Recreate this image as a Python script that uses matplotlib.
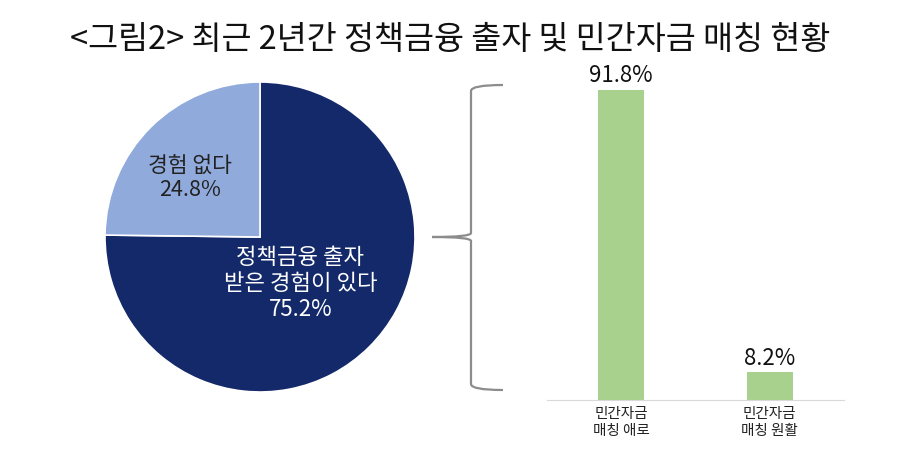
import matplotlib
matplotlib.use("Agg")
import matplotlib.pyplot as plt
from matplotlib.path import Path
from matplotlib.patches import PathPatch

plt.rcParams['font.family'] = ['Noto Sans CJK KR', 'DejaVu Sans']

# data
pie_labels = ['정책금융 출자\n받은 경험이 있다', '경험 없다']
pie_values = [75.2, 24.8]
pie_colors = ['#132969', '#8faadb']

bar_categories = ['민간자금\n매칭 애로', '민간자금\n매칭 원활']
bar_values = [91.8, 8.2]

title = '<그림2> 최근 2년간 정책금융 출자 및 민간자금 매칭 현황'

W, H = 900, 454
fig = plt.figure(figsize=(W / 100, H / 100), dpi=100)

fig.text(0.5, 1 - 40 / H, title, ha='center', va='center',
         fontsize=23.5, color='#111111')

# pie
ax_pie = fig.add_axes([105 / W, 1 - 392 / H, 310 / W, 310 / H])
wedges, _ = ax_pie.pie(pie_values, colors=pie_colors, startangle=90,
                       counterclock=False,
                       wedgeprops=dict(edgecolor='white', linewidth=1.2))
ax_pie.set_xlim(-1, 1)
ax_pie.set_ylim(-1, 1)
ax_pie.set_aspect('equal')
ax_pie.text(0.26, -0.30, f'{pie_labels[0]}\n{pie_values[0]}%', ha='center', va='center',
            fontsize=16, color='white', linespacing=1.15)
ax_pie.text(-0.45, 0.38, f'{pie_labels[1]}\n{pie_values[1]}%', ha='center', va='center',
            fontsize=15.5, color='#222222', linespacing=1.15)

# bracket
ax_o = fig.add_axes([0, 0, 1, 1], facecolor='none')
ax_o.set_xlim(0, W)
ax_o.set_ylim(H, 0)
ax_o.axis('off')
bx, top, bot, mid, tip, right = 471, 85, 390, 237, 432, 503
verts = [(right, top), (bx, top), (bx, top + 6), (bx, mid - 4), (bx, mid), (tip, mid)]
codes = [Path.MOVETO, Path.CURVE3, Path.CURVE3, Path.LINETO, Path.CURVE3, Path.CURVE3]
verts2 = [(tip, mid), (bx, mid), (bx, mid + 4), (bx, bot - 6), (bx, bot), (right, bot)]
for v in (verts, verts2):
    ax_o.add_patch(PathPatch(Path(v, codes), fill=False, edgecolor='#8c8c8c', linewidth=1.6))

# bars
ax_bar = fig.add_axes([547 / W, 54 / H, 297 / W, 338 / H])
x = list(range(len(bar_values)))
ax_bar.bar(x, bar_values, width=0.31, color='#a9d18e')
ax_bar.set_xlim(-0.5, 1.5)
ax_bar.set_ylim(0, 100)
for xi, v in zip(x, bar_values):
    ax_bar.text(xi, v + 0.8, f'{v}%', ha='center', va='bottom', fontsize=16,
                color='#111111')
for s in ['top', 'right', 'left']:
    ax_bar.spines[s].set_visible(False)
ax_bar.spines['bottom'].set_color('#d9d9d9')
ax_bar.set_yticks([])
ax_bar.set_xticks(x)
ax_bar.set_xticklabels(bar_categories, fontsize=10.5, color='#222222', linespacing=1.25)
ax_bar.tick_params(axis='x', length=0, pad=5)

fig.savefig('out.png', dpi=100)
